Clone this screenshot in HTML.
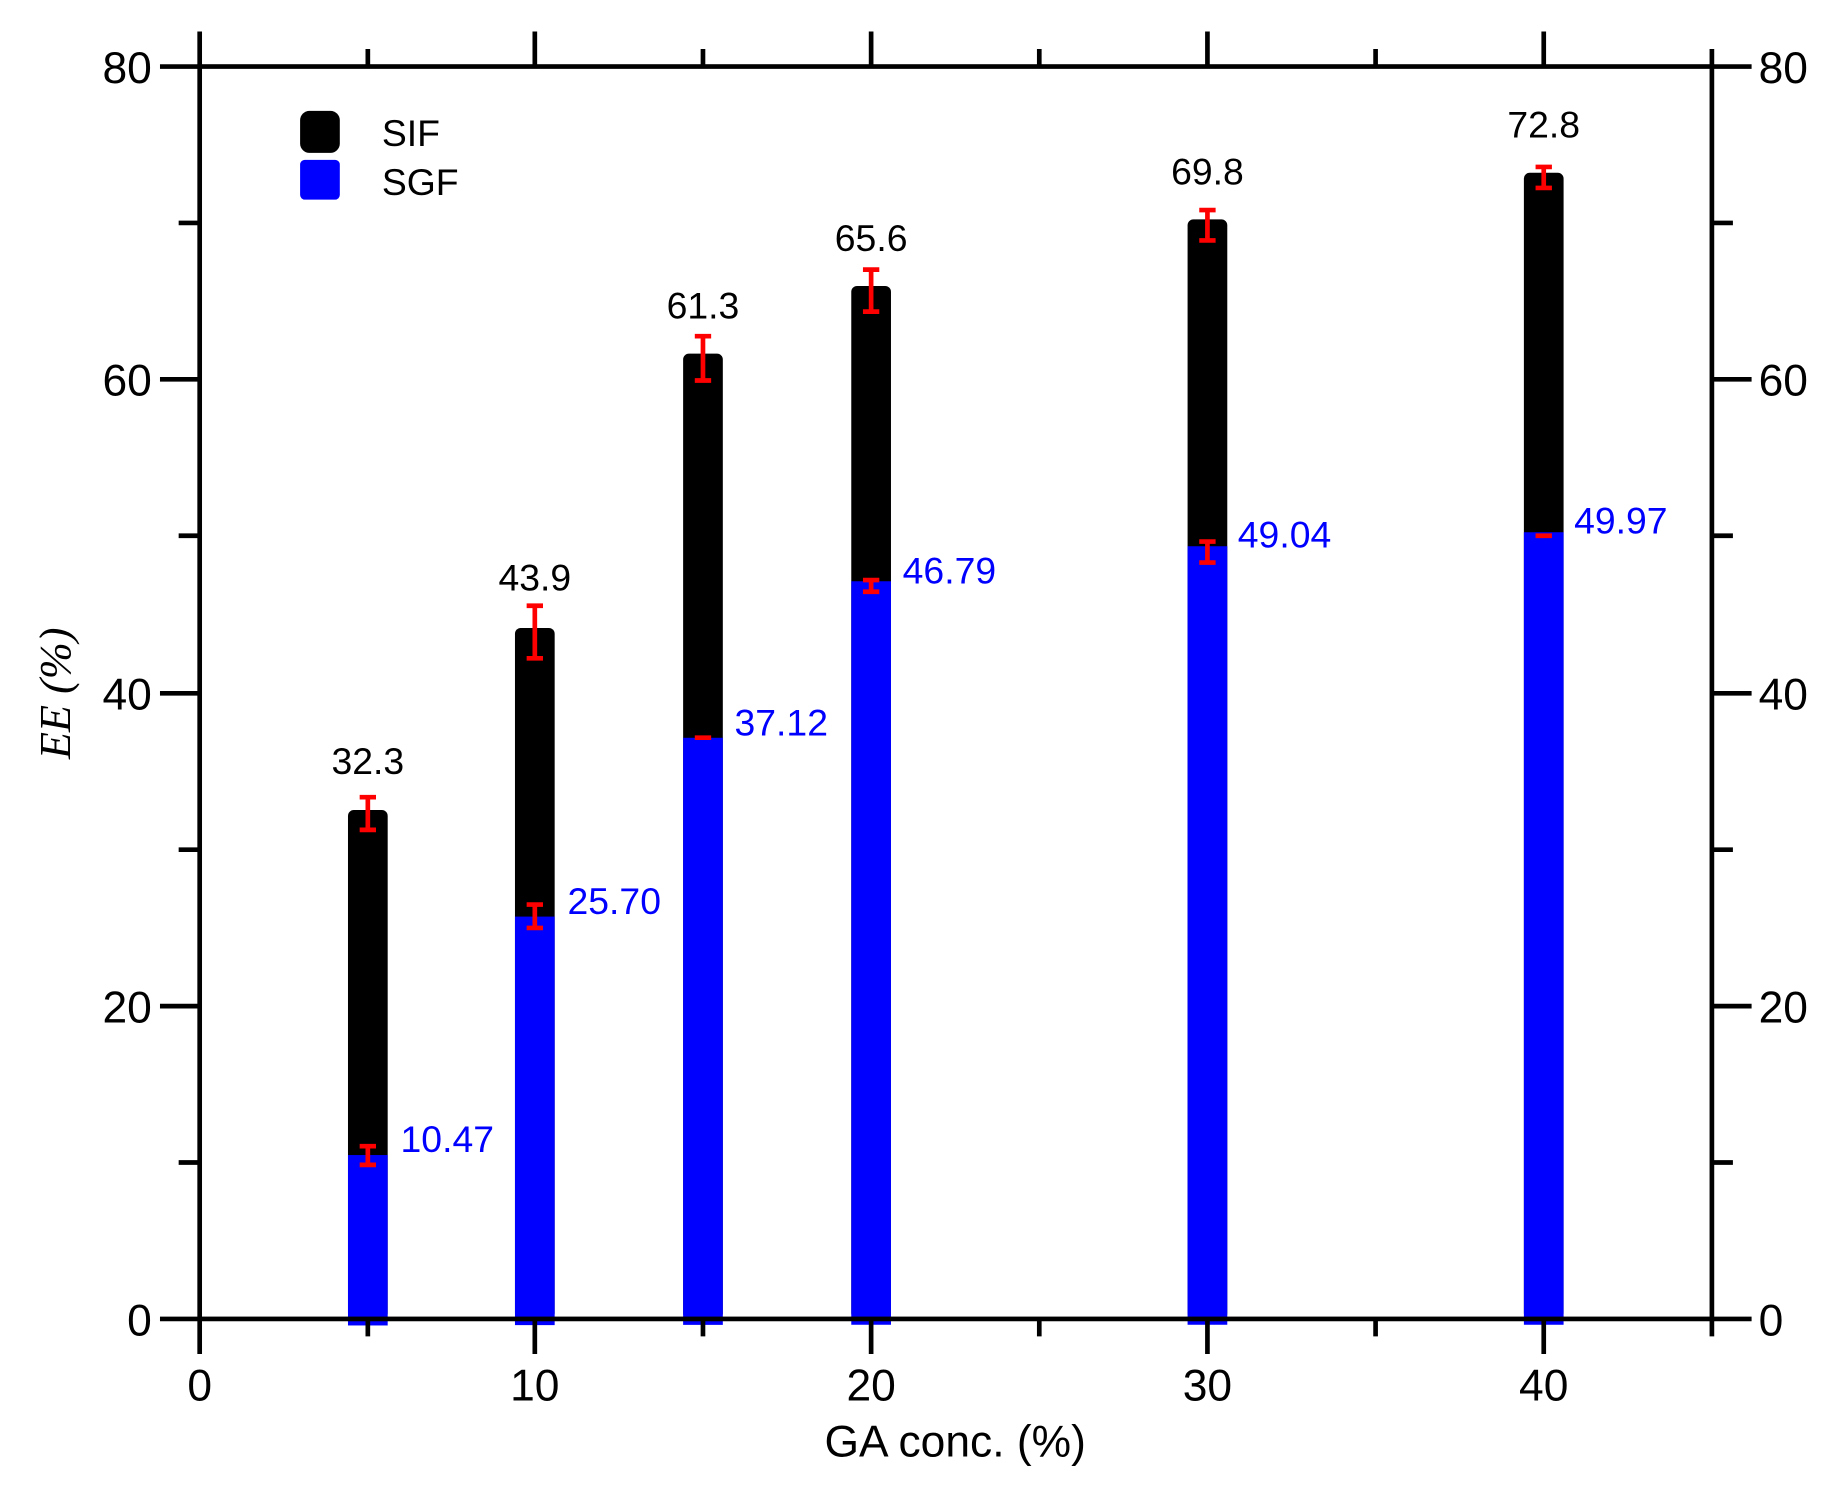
<!DOCTYPE html>
<html><head><style>html,body{margin:0;padding:0;background:#fff}svg{display:block}</style></head><body>
<svg width="1831" height="1487" viewBox="0 0 1568 1274" preserveAspectRatio="none" xmlns="http://www.w3.org/2000/svg" font-family="Liberation Sans, sans-serif">
<rect width="1568" height="1274" fill="#fff"/>
<g>
<rect x="298" y="694" width="34" height="436" fill="#000" rx="5"/>
<rect x="298" y="989.6" width="34" height="146" fill="#0000ff"/>
<rect x="441" y="538" width="34" height="592" fill="#000" rx="5"/>
<rect x="441" y="785.3" width="34" height="350" fill="#0000ff"/>
<rect x="585" y="303" width="34" height="827" fill="#000" rx="5"/>
<rect x="585" y="632.1" width="34" height="503" fill="#0000ff"/>
<rect x="729" y="245" width="34" height="885" fill="#000" rx="5"/>
<rect x="729" y="498" width="34" height="637" fill="#0000ff"/>
<rect x="1017" y="188" width="34" height="942" fill="#000" rx="5"/>
<rect x="1017" y="468" width="34" height="667" fill="#0000ff"/>
<rect x="1305" y="148" width="34" height="982" fill="#000" rx="5"/>
<rect x="1305" y="456" width="34" height="679" fill="#0000ff"/>
</g>
<g stroke="#ff0000" stroke-width="4" fill="none">
<path d="M315 683v28M308 683h14M308 711h14"/>
<path d="M315 982v16M308 982h14M308 998h14"/>
<path d="M458 519v45M451 519h14M451 564h14"/>
<path d="M458 775v20M451 775h14M451 795h14"/>
<path d="M602 288v38M595 288h14M595 326h14"/>
<path d="M595 632h14"/>
<path d="M746 231v36M739 231h14M739 267h14"/>
<path d="M746 497v10M739 497h14M739 507h14"/>
<path d="M1034 180v26M1027 180h14M1027 206h14"/>
<path d="M1034 464v18M1027 464h14M1027 482h14"/>
<path d="M1322 143v18M1315 143h14M1315 161h14"/>
<path d="M1315 459h14"/>
</g>
<g stroke="#000" stroke-width="4" fill="none">
<rect x="171" y="57" width="1295" height="1073"/>
<path d="M137 57h34M137 325h34M137 594h34M137 862h34M137 1130h34"/>
<path d="M153 191h18M153 459h18M153 728h18M153 996h18"/>
<path d="M1466 57h34M1466 325h34M1466 594h34M1466 862h34M1466 1130h34"/>
<path d="M1466 191h18M1466 459h18M1466 728h18M1466 996h18"/>
<path d="M171 1130v30M458 1130v30M746 1130v30M1034 1130v30M1322 1130v30"/>
<path d="M315 1130v15M602 1130v15M890 1130v15M1178 1130v15M1466 1130v15"/>
<path d="M171 57v-30M458 57v-30M746 57v-30M1034 57v-30M1322 57v-30"/>
<path d="M315 57v-15M602 57v-15M890 57v-15M1178 57v-15M1466 57v-15"/>
</g>
<g font-size="38" fill="#000">
<g text-anchor="end">
<text x="130" y="71">80</text><text x="130" y="339">60</text><text x="130" y="608">40</text><text x="130" y="876">20</text><text x="130" y="1144">0</text>
</g>
<g text-anchor="start">
<text x="1506" y="71">80</text><text x="1506" y="339">60</text><text x="1506" y="608">40</text><text x="1506" y="876">20</text><text x="1506" y="1144">0</text>
</g>
<g text-anchor="middle">
<text x="171" y="1200">0</text><text x="458" y="1200">10</text><text x="746" y="1200">20</text><text x="1034" y="1200">30</text><text x="1322" y="1200">40</text>
<text x="818" y="1248">GA conc. (%)</text>
</g>
<text transform="translate(60 594) rotate(-90)" text-anchor="middle" font-family="Liberation Serif, serif" font-style="italic">EE (%)</text>
</g>
<g font-size="32" text-anchor="middle" fill="#000">
<text x="315" y="663">32.3</text><text x="458" y="506">43.9</text><text x="602" y="273">61.3</text><text x="746" y="215">65.6</text><text x="1034" y="158">69.8</text><text x="1322" y="118">72.8</text>
</g>
<g font-size="32" fill="#0000ff">
<text x="343" y="987">10.47</text><text x="486" y="783">25.70</text><text x="629" y="630">37.12</text><text x="773" y="500">46.79</text><text x="1060" y="469">49.04</text><text x="1348" y="457">49.97</text>
</g>
<rect x="257" y="95" width="34" height="36" rx="8" fill="#000"/>
<rect x="257" y="137" width="34" height="34" rx="4" fill="#0000ff"/>
<g font-size="32" fill="#000"><text x="327" y="125">SIF</text><text x="327" y="167">SGF</text></g>
</svg>
</body></html>
